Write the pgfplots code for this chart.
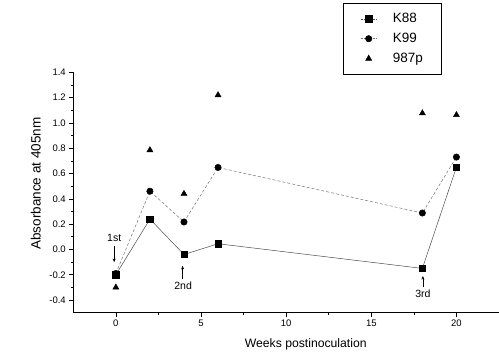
\documentclass[border=0pt]{standalone}
\usepackage{fontspec}
\setmainfont{Liberation Sans}
\usepackage{pgfplots}
\pgfplotsset{compat=1.18}
\usetikzlibrary{arrows.meta}
\pgfplotsset{
  dotleg/.style={legend image code/.code={\path (0pt,0pt) (44pt,0pt); \draw[mark repeat=2,mark phase=2,##1, densely dotted] plot coordinates {(14pt,0pt)(22pt,0pt)(30pt,0pt)};}},
  markleg/.style={legend image code/.code={\path (0pt,0pt) (44pt,0pt); \draw[##1] plot coordinates {(22pt,0pt)};}},
}
\begin{document}
\begin{tikzpicture}[x=1pt,y=1pt]
\useasboundingbox (0,0) rectangle (499,354);
\begin{axis}[
  at={(73.3pt,41.3pt)}, anchor=south west,
  scale only axis, width=425.7pt, height=240.4pt,
  xmin=-2.5, xmax=22.5, ymin=-0.5, ymax=1.4,
  axis x line=bottom, axis y line=left,
  axis line style={-, line width=0.6pt},
  tick style={line width=0.6pt, black},
  tick align=outside, minor tick num=1,
  major tick length=4pt, minor tick length=2.2pt,
  xtick={0,5,10,15,20},
  ytick={-0.4,-0.2,0,0.2,0.4,0.6,0.8,1.0,1.2,1.4},
  yticklabel style={/pgf/number format/.cd, fixed, fixed zerofill, precision=1},
  /pgf/number format/assume math mode=true,
  tick label style={font=\fontsize{9.5}{11}\selectfont},
  xlabel={Weeks postinoculation},
  ylabel={Absorbance at 405nm},
  xlabel style={font=\fontsize{12.2}{14}\selectfont, at={(axis description cs:0.546,-0.132)}, anchor=center},
  ylabel style={font=\fontsize{13.5}{15}\selectfont, at={(axis description cs:-0.0883,0.537)}, anchor=center},
  clip=false,
  legend style={at={(axis description cs:0.634,1.288)}, anchor=north west,
    draw=black, line width=0.5pt, font=\fontsize{13.5}{15}\selectfont,
    row sep=5pt, inner xsep=3pt, inner ysep=8pt, cells={anchor=west}},
  legend cell align=left,
]
\addplot[black!70, line width=0.5pt, mark=square*, mark size=3.2pt, mark options={solid, fill=black, draw=black}, dotleg]
  coordinates {(0,-0.20) (2,0.24) (4,-0.04) (6,0.045) (18,-0.15) (20,0.65)};
\addlegendentry{\makebox[43pt][l]{K88}}
\addplot[black!55, line width=0.5pt, densely dashed, mark=*, mark size=3.2pt, mark options={solid, fill=black, draw=black}, dotleg]
  coordinates {(0,-0.19) (2,0.46) (4,0.217) (6,0.648) (18,0.288) (20,0.73)};
\addlegendentry{\makebox[43pt][l]{K99}}
\addplot[only marks, mark=triangle*, mark size=3.5pt, mark options={fill=black, draw=black}, markleg]
  coordinates {(0,-0.30) (2,0.785) (4,0.44) (6,1.22) (18,1.077) (20,1.063)};
\addlegendentry{\makebox[43pt][l]{987p}}
\node[font=\fontsize{10.5}{12}\selectfont] at (axis cs:-0.1,0.09) {1st};
\draw[-{Stealth[length=3.5pt,width=3pt]}, line width=0.6pt] (axis cs:-0.1,0.03) -- (axis cs:-0.1,-0.10);
\node[font=\fontsize{10.5}{12}\selectfont] at (axis cs:3.95,-0.29) {2nd};
\draw[-{Stealth[length=3.5pt,width=3pt]}, line width=0.6pt] (axis cs:3.92,-0.235) -- (axis cs:3.92,-0.13);
\node[font=\fontsize{10.5}{12}\selectfont] at (axis cs:18.03,-0.35) {3rd};
\draw[-{Stealth[length=3.5pt,width=3pt]}, line width=0.6pt] (axis cs:18.03,-0.30) -- (axis cs:18.03,-0.21);
\end{axis}
\end{tikzpicture}
\end{document}
